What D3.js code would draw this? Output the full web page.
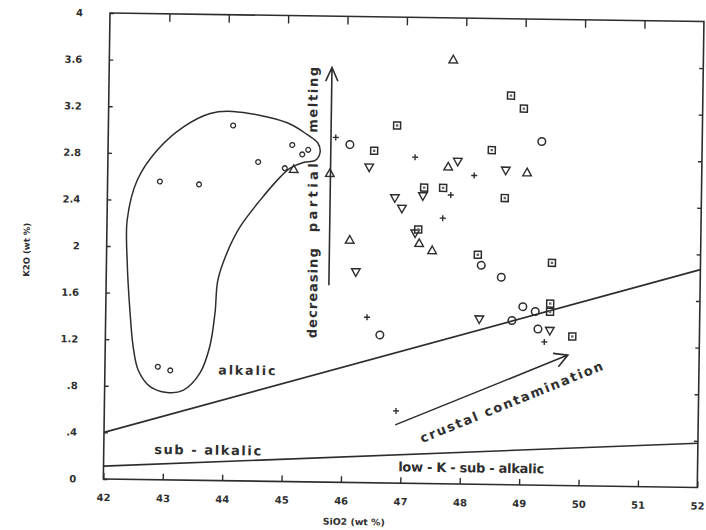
<!DOCTYPE html>
<html>
<head>
<meta charset="utf-8">
<script src="https://cdn.jsdelivr.net/npm/d3@7"></script>
<style>
  html, body { margin: 0; padding: 0; background: #fff; }
  svg { display: block; }
  text { font-family: "DejaVu Sans", "Open Sans", sans-serif; font-weight: bold; fill: #2e2e2e; }
</style>
</head>
<body>
<svg id="chart" width="706" height="530"></svg>
<script>
// ---- axis ticks -------------------------------------------------------
const xTickValues = [42, 43, 44, 45, 46, 47, 48, 49, 50, 51, 52];
const xTickLabels = ["42", "43", "44", "45", "46", "47", "48", "49", "50", "51", "52"];
const yTickValues = [0, 0.4, 0.8, 1.2, 1.6, 2, 2.4, 2.8, 3.2, 3.6, 4];
const yTickLabels = ["0", ".4", ".8", "1.2", "1.6", "2", "2.4", "2.8", "3.2", "3.6", "4"];

// ---- samples: [SiO2 wt %, K2O wt %] ------------------------------------
const alkalicCircles = [
  [44.10, 3.05], [42.88, 2.56], [43.54, 2.54], [44.53, 2.74], [45.10, 2.89],
  [45.27, 2.81], [45.37, 2.85], [44.98, 2.69], [42.89, 0.97], [43.10, 0.94]
];
const openCircles = [
  [46.07, 2.90], [48.31, 1.88], [48.65, 1.78], [46.62, 1.27], [49.02, 1.53],
  [49.23, 1.49], [48.84, 1.41], [49.28, 1.34], [49.30, 2.95]
];
const trianglesUp = [
  [47.79, 3.64], [47.73, 2.72], [49.06, 2.68], [46.09, 2.08], [47.26, 2.06],
  [47.48, 2.00], [45.74, 2.65], [45.13, 2.68]
];
const trianglesDown = [
  [46.40, 2.71], [47.89, 2.77], [48.70, 2.70], [46.84, 2.45], [46.96, 2.36],
  [47.31, 2.47], [47.19, 2.15], [46.20, 1.81], [48.29, 1.42], [49.48, 1.33]
];
const squares = [
  [48.77, 3.34], [48.99, 3.23], [46.86, 3.07], [46.48, 2.85], [48.46, 2.87],
  [47.33, 2.54], [47.65, 2.54], [48.69, 2.46], [47.24, 2.18], [48.25, 1.97],
  [49.50, 1.91], [49.48, 1.56], [49.48, 1.49], [49.86, 1.28]
];
const crosses = [
  [45.83, 2.96], [47.17, 2.80], [48.17, 2.65], [47.78, 2.48], [47.65, 2.28],
  [46.40, 1.42], [49.39, 1.23], [46.91, 0.62]
];

// ---- field boundaries ----------------------------------------------------
const alkalicBoundary = [[42, 0.40], [52, 1.87]];
const lowKBoundary = [[42, 0.11], [52, 0.38]];

// outline around the alkalic group
const alkalicField = [
  [44.09, 3.17], [45.01, 3.08], [45.35, 2.98], [45.53, 2.91], [45.57, 2.83],
  [45.49, 2.76], [45.29, 2.74], [45.07, 2.69], [44.90, 2.61], [44.57, 2.41],
  [44.24, 2.18], [44.03, 1.96], [43.88, 1.72], [43.84, 1.44], [43.76, 1.15],
  [43.60, 0.92], [43.32, 0.77], [43.05, 0.75], [42.76, 0.80], [42.56, 0.94],
  [42.47, 1.14], [42.41, 1.43], [42.35, 1.86], [42.34, 2.23], [42.50, 2.57],
  [42.83, 2.83], [43.26, 3.03], [43.71, 3.15]
];

// trend arrows
const meltingArrow = [[45.75, 1.69], [45.75, 3.56]];
const contaminationArrow = [[46.90, 0.50], [49.79, 1.12]];

// ---- layout ------------------------------------------------------------
const frame = { left: 110, top: 13, right: 704, bottom: 479 };
const tilt = 0.82; // the whole sheet sits slightly rotated
const INK = "#2d2d2d";

const svg = d3.select("#chart");
const x = d3.scaleLinear().domain([42, 52]).range([frame.left, frame.right]);
const y = d3.scaleLinear().domain([0, 4]).range([frame.bottom, frame.top]);

const g = svg.append("g")
  .attr("transform", `rotate(${tilt},${frame.left},${frame.top})`);

// frame
g.append("rect")
  .attr("x", frame.left).attr("y", frame.top)
  .attr("width", frame.right - frame.left).attr("height", frame.bottom - frame.top)
  .attr("fill", "none").attr("stroke", INK).attr("stroke-width", 1.6);

// axes (ticks point inward)
function styleAxis(sel) {
  sel.select(".domain").remove();
  sel.selectAll(".tick line").attr("stroke", INK).attr("stroke-width", 1.4);
  sel.selectAll(".tick text")
    .attr("fill", "#333").attr("font-size", 10)
    .attr("font-family", "\"DejaVu Sans\", sans-serif").attr("font-weight", "bold");
}
g.append("g").attr("transform", `translate(0,${frame.bottom})`)
  .call(d3.axisBottom(x).tickValues(xTickValues).tickSize(-6).tickPadding(15)
    .tickFormat((d, i) => xTickLabels[i]))
  .call(styleAxis);
g.append("g").attr("transform", `translate(0,${frame.top})`)
  .call(d3.axisTop(x).tickValues(xTickValues.slice(1, -1)).tickSize(-8).tickFormat(""))
  .call(styleAxis);
g.append("g").attr("transform", `translate(${frame.left},0)`)
  .call(d3.axisLeft(y).tickValues(yTickValues).tickSize(-4).tickPadding(27)
    .tickFormat((d, i) => yTickLabels[i]))
  .call(styleAxis);
g.append("g").attr("transform", `translate(${frame.right},0)`)
  .call(d3.axisRight(y).tickValues(yTickValues.slice(1, -1)).tickSize(-4).tickFormat(""))
  .call(styleAxis);

// axis titles
g.append("text")
  .attr("transform", `translate(30,251) rotate(-90)`)
  .attr("text-anchor", "middle").attr("dominant-baseline", "central")
  .attr("font-size", 8.5).attr("fill", "#444")
  .attr("textLength", 54).attr("lengthAdjust", "spacingAndGlyphs")
  .text("K2O (wt %)");
g.append("text")
  .attr("x", 361).attr("y", 518.5)
  .attr("text-anchor", "middle").attr("dominant-baseline", "central")
  .attr("font-size", 9).attr("fill", "#444")
  .attr("textLength", 62).attr("lengthAdjust", "spacingAndGlyphs")
  .text("SiO2 (wt %)");

// clip everything drawn inside the frame
svg.append("defs").append("clipPath").attr("id", "plot-clip")
  .append("rect")
  .attr("x", frame.left).attr("y", frame.top)
  .attr("width", frame.right - frame.left).attr("height", frame.bottom - frame.top);
const plot = g.append("g").attr("clip-path", "url(#plot-clip)");

const line = d3.line().x(d => x(d[0])).y(d => y(d[1]));

// boundaries
[alkalicBoundary, lowKBoundary].forEach(b => {
  plot.append("path").attr("d", line(b))
    .attr("fill", "none").attr("stroke", INK).attr("stroke-width", 1.6);
});

// alkalic field outline
plot.append("path")
  .attr("d", d3.line().x(d => x(d[0])).y(d => y(d[1]))
    .curve(d3.curveCatmullRomClosed.alpha(0.5))(alkalicField))
  .attr("fill", "none").attr("stroke", INK).attr("stroke-width", 1.5);

// arrows with open heads
function arrow(pts, headLen, headAngle) {
  const x0 = x(pts[0][0]), y0 = y(pts[0][1]);
  const x1 = x(pts[1][0]), y1 = y(pts[1][1]);
  const a = Math.atan2(y1 - y0, x1 - x0);
  const arms = [a + Math.PI - headAngle, a + Math.PI + headAngle].map(t =>
    [x1 + headLen * Math.cos(t), y1 + headLen * Math.sin(t)]);
  plot.append("path")
    .attr("d", `M${x0},${y0}L${x1},${y1}M${arms[0][0]},${arms[0][1]}L${x1},${y1}L${arms[1][0]},${arms[1][1]}`)
    .attr("fill", "none").attr("stroke", INK).attr("stroke-width", 1.6)
    .attr("stroke-linejoin", "miter");
  return a * 180 / Math.PI;
}
arrow(meltingArrow, 15, 0.42);
const contamAngle = arrow(contaminationArrow, 15, 0.5);

// ---- annotations ----------------------------------------------------------
function label(txt, pos, size, len, rot) {
  const t = plot.append("text")
    .attr("transform", `translate(${x(pos[0])},${y(pos[1])}) rotate(${rot || 0})`)
    .attr("text-anchor", "middle").attr("dominant-baseline", "central")
    .attr("font-size", size)
    .text(txt);
  if (len) t.attr("textLength", len).attr("lengthAdjust", "spacing");
}
label("alkalic", [44.39, 0.95], 12.5, 57);
label("sub - alkalic", [43.75, 0.26], 13, 107);
label("low - K - sub - alkalic", [48.19, 0.14], 13, 146);
label("crustal contamination", [48.85, 0.71], 13, 196, contamAngle);
label("decreasing", [45.48, 1.62], 13, 90, -90);
label("partial", [45.46, 2.44], 13, 69, -90);
label("melting", [45.44, 3.28], 13, 66, -90);

// ---- sample symbols ---------------------------------------------------------
const at = d => `translate(${x(d[0])},${y(d[1])})`;
const stroke = sel => sel.attr("fill", "none").attr("stroke", INK).attr("stroke-width", 1.3);

plot.append("g").selectAll("circle").data(alkalicCircles).join("circle")
  .attr("transform", at).attr("r", 2.4).call(stroke);
plot.append("g").selectAll("circle").data(openCircles).join("circle")
  .attr("transform", at).attr("r", 3.8).call(stroke).attr("stroke-width", 1.5);
plot.append("g").selectAll("path").data(trianglesUp).join("path")
  .attr("transform", at).attr("d", "M0,-4.6L4.3,3L-4.3,3Z").call(stroke).attr("stroke-width", 1.4);
plot.append("g").selectAll("path").data(trianglesDown).join("path")
  .attr("transform", at).attr("d", "M0,4.6L4.3,-3L-4.3,-3Z").call(stroke).attr("stroke-width", 1.4);
const sq = plot.append("g").selectAll("g").data(squares).join("g").attr("transform", at);
sq.append("rect").attr("x", -3.5).attr("y", -3.5).attr("width", 7).attr("height", 7)
  .call(stroke).attr("stroke-width", 1.5);
sq.append("rect").attr("x", -1.2).attr("y", -1.2).attr("width", 2.4).attr("height", 2.4)
  .attr("fill", "#666");
plot.append("g").selectAll("path").data(crosses).join("path")
  .attr("transform", at).attr("d", "M-3,0H3M0,-3V3").call(stroke).attr("stroke-width", 1.4);
</script>
</body>
</html>
